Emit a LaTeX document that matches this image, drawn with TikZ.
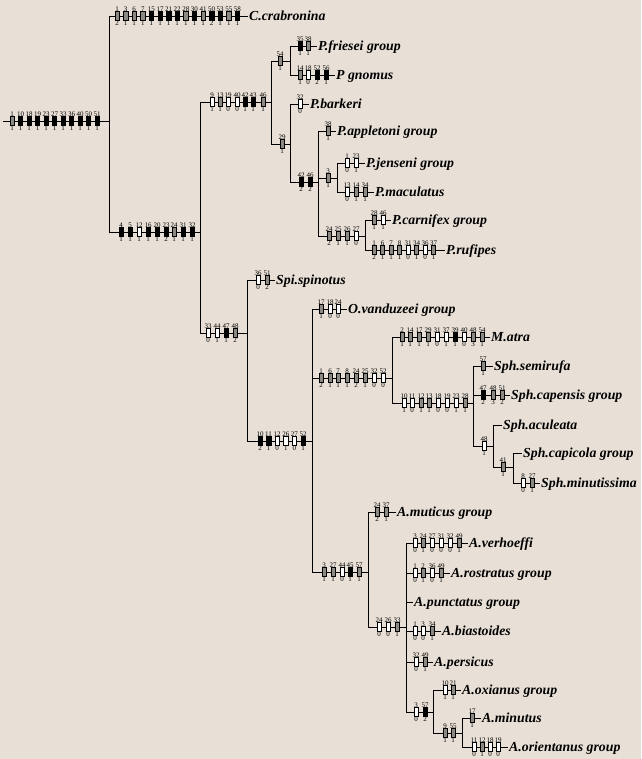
\documentclass[tikz,border=0pt]{standalone}
\usepackage{fontspec}
\setmainfont{Liberation Serif}

\definecolor{paper}{RGB}{232,224,214}
\definecolor{hatch}{RGB}{140,136,130}

\tikzset{
  branch/.style={line width=0.8pt},
  chbox/.style={draw, line width=0.6pt, minimum width=4.4pt, minimum height=8.8pt, inner sep=0pt, label distance=1.2pt},
  blk/.style={chbox, fill=black},
  wht/.style={chbox, fill=white},
  gry/.style={chbox, fill=hatch},
  num/.style={font=\fontsize{7}{7}\selectfont, inner sep=0pt},
  taxon/.style={anchor=west, inner sep=1pt, text height=8.8pt, text depth=0pt,
    font=\fontsize{13.8}{13.8}\selectfont\bfseries\itshape}
}

% one row of character boxes: y, list of x/style/character/state
\newcommand{\chrow}[2]{%
  \foreach \cx/\cs/\cn/\cv in {#2}{
    \node[\cs, label={[num]above:\cn}, label={[num]below:\cv}] (c\cn-\cx-#1) at (\cx,#1) {};
  }}

\begin{document}
\begin{tikzpicture}[x=1pt,y=-1pt]
\fill[paper] (0,0) rectangle (641,759);
\useasboundingbox (0,0) rectangle (641,759);

% branch points
\coordinate (rt) at (3,121);
\coordinate (n0t) at (109,16);  \coordinate (n0m) at (109,121); \coordinate (n0b) at (109,232);
\coordinate (n1t) at (200,102); \coordinate (n1m) at (200,232); \coordinate (n1b) at (200,333);
\coordinate (n2t) at (271,61);  \coordinate (n2m) at (271,102); \coordinate (n2b) at (271,144);
\coordinate (n3t) at (290,46);  \coordinate (n3m) at (290,61);  \coordinate (n3b) at (290,75);
\coordinate (n4t) at (290,104); \coordinate (n4m) at (290,144); \coordinate (n4b) at (290,182);
\coordinate (n5t) at (318,131); \coordinate (n5a) at (318,178); \coordinate (n5m) at (318,182); \coordinate (n5b) at (318,236);
\coordinate (n6t) at (337,163); \coordinate (n6m) at (337,178); \coordinate (n6b) at (337,192);
\coordinate (n7t) at (365,220); \coordinate (n7m) at (365,236); \coordinate (n7b) at (365,250);
\coordinate (n8t) at (247,280); \coordinate (n8m) at (247,333); \coordinate (n8b) at (247,441);
\coordinate (n9t) at (312,309); \coordinate (n9a) at (312,378); \coordinate (n9m) at (312,441); \coordinate (n9b) at (312,572);
\coordinate (n10t) at (392,337); \coordinate (n10m) at (392,378); \coordinate (n10b) at (392,403);
\coordinate (n11t) at (473,366); \coordinate (n11a) at (473,395); \coordinate (n11m) at (473,403); \coordinate (n11b) at (473,446);
\coordinate (n12t) at (493,425); \coordinate (n12m) at (493,446); \coordinate (n12b) at (493,467);
\coordinate (n13t) at (513,453); \coordinate (n13m) at (513,467); \coordinate (n13b) at (513,483);
\coordinate (n14t) at (368,512); \coordinate (n14m) at (368,572); \coordinate (n14b) at (368,627);
\coordinate (n15t) at (406,543); \coordinate (n15a) at (406,573); \coordinate (n15c) at (406,602);
\coordinate (n15m) at (406,627); \coordinate (n15d) at (406,631); \coordinate (n15e) at (406,662); \coordinate (n15b) at (406,712);
\coordinate (n16t) at (433,690); \coordinate (n16m) at (433,712); \coordinate (n16b) at (433,733);
\coordinate (n17t) at (462,718); \coordinate (n17m) at (462,733); \coordinate (n17b) at (462,747);

% taxa
\node[taxon] (crab) at (248,16) {C.crabronina};
\node[taxon] (fries) at (317,46) {P.friesei group};
\node[taxon] (gnom) at (335,75) {P gnomus};
\node[taxon] (bark) at (309,104) {P.barkeri};
\node[taxon] (appl) at (336,131) {P.appletoni group};
\node[taxon] (jens) at (365,163) {P.jenseni group};
\node[taxon] (macu) at (374,192) {P.maculatus};
\node[taxon] (carn) at (391,220) {P.carnifex group};
\node[taxon] (rufi) at (445,250) {P.rufipes};
\node[taxon] (spin) at (275,280) {Spi.spinotus};
\node[taxon] (vand) at (347,309) {O.vanduzeei group};
\node[taxon] (matr) at (490,337) {M.atra};
\node[taxon] (semi) at (493,366) {Sph.semirufa};
\node[taxon] (cape) at (510,395) {Sph.capensis group};
\node[taxon] (acul) at (502,425) {Sph.aculeata};
\node[taxon] (capi) at (522,453) {Sph.capicola group};
\node[taxon] (minu) at (540,483) {Sph.minutissima};
\node[taxon] (muti) at (396,512) {A.muticus group};
\node[taxon] (verh) at (468,543) {A.verhoeffi};
\node[taxon] (rost) at (450,573) {A.rostratus group};
\node[taxon] (punc) at (413,602) {A.punctatus group};
\node[taxon] (bias) at (441,631) {A.biastoides};
\node[taxon] (pers) at (433,662) {A.persicus};
\node[taxon] (oxia) at (461,690) {A.oxianus group};
\node[taxon] (minut) at (481,718) {A.minutus};
\node[taxon] (orie) at (508,747) {A.orientanus group};

% verticals
\draw[branch] (n0t) -- (n0b);  \draw[branch] (n1t) -- (n1b);
\draw[branch] (n2t) -- (n2b);  \draw[branch] (n3t) -- (n3b);
\draw[branch] (n4t) -- (n4b);  \draw[branch] (n5t) -- (n5b);
\draw[branch] (n6t) -- (n6b);  \draw[branch] (n7t) -- (n7b);
\draw[branch] (n8t) -- (n8b);  \draw[branch] (n9t) -- (n9b);
\draw[branch] (n10t) -- (n10b); \draw[branch] (n11t) -- (n11b);
\draw[branch] (n12t) -- (n12b); \draw[branch] (n13t) -- (n13b);
\draw[branch] (n14t) -- (n14b); \draw[branch] (n15t) -- (n15b);
\draw[branch] (n16t) -- (n16b); \draw[branch] (n17t) -- (n17b);

% horizontals
\draw[branch] (rt) -- (n0m);
\draw[branch] (n0t) -- (crab.west);
\draw[branch] (n0b) -- (n1m);
\draw[branch] (n1t) -- (n2m);
\draw[branch] (n2t) -- (n3m);
\draw[branch] (n3t) -- (fries.west);
\draw[branch] (n3b) -- (gnom.west);
\draw[branch] (n2b) -- (n4m);
\draw[branch] (n4t) -- (bark.west);
\draw[branch] (n4b) -- (n5m);
\draw[branch] (n5t) -- (appl.west);
\draw[branch] (n5a) -- (n6m);
\draw[branch] (n6t) -- (jens.west);
\draw[branch] (n6b) -- (macu.west);
\draw[branch] (n5b) -- (n7m);
\draw[branch] (n7t) -- (carn.west);
\draw[branch] (n7b) -- (rufi.west);
\draw[branch] (n1b) -- (n8m);
\draw[branch] (n8t) -- (spin.west);
\draw[branch] (n8b) -- (n9m);
\draw[branch] (n9t) -- (vand.west);
\draw[branch] (n9a) -- (n10m);
\draw[branch] (n10t) -- (matr.west);
\draw[branch] (n10b) -- (n11m);
\draw[branch] (n11t) -- (semi.west);
\draw[branch] (n11a) -- (cape.west);
\draw[branch] (n11b) -- (n12m);
\draw[branch] (n12t) -- (acul.west);
\draw[branch] (n12b) -- (n13m);
\draw[branch] (n13t) -- (capi.west);
\draw[branch] (n13b) -- (minu.west);
\draw[branch] (n9b) -- (n14m);
\draw[branch] (n14t) -- (muti.west);
\draw[branch] (n14b) -- (n15m);
\draw[branch] (n15t) -- (verh.west);
\draw[branch] (n15a) -- (rost.west);
\draw[branch] (n15c) -- (punc.west);
\draw[branch] (n15d) -- (bias.west);
\draw[branch] (n15e) -- (pers.west);
\draw[branch] (n15b) -- (n16m);
\draw[branch] (n16t) -- (oxia.west);
\draw[branch] (n16b) -- (n17m);
\draw[branch] (n17t) -- (minut.west);
\draw[branch] (n17b) -- (orie.west);

% character boxes
\chrow{121}{12/gry/1/1, 20.5/blk/10/1, 29/blk/18/1, 37.5/blk/19/1, 46/blk/23/1, 54.5/blk/27/1,
  63/blk/33/1, 71.5/blk/36/1, 80/blk/40/1, 88.5/blk/50/1, 97/blk/51/1}
\chrow{16}{117/gry/1/2, 125.6/gry/3/1, 134.2/gry/6/1, 142.8/gry/7/1, 151.4/blk/15/1, 160/blk/17/1,
  168.6/blk/21/1, 177.2/blk/22/1, 185.8/gry/28/1, 194.4/blk/30/1, 203/gry/41/1, 211.6/blk/50/2,
  220.2/blk/53/1, 228.8/gry/55/1, 237.4/blk/58/1}
\chrow{232}{121/blk/4/1, 130/blk/5/1, 139/wht/12/1, 148/blk/16/1, 157/blk/20/1, 166/blk/23/2,
  174/gry/24/1, 183/blk/31/1, 192/blk/32/1}
\chrow{102}{212/wht/9/1, 220/gry/13/1, 228/wht/19/0, 237/wht/40/0, 245/blk/42/1, 253/blk/43/1, 263/gry/46/1}
\chrow{61}{280/gry/54/1}
\chrow{46}{300/blk/35/1, 308/gry/38/1}
\chrow{75}{300/gry/14/1, 308/wht/18/0, 317/blk/52/2, 326/blk/56/1}
\chrow{144}{282/gry/29/1}
\chrow{104}{300/wht/32/0}
\chrow{182}{301/blk/42/2, 310/blk/46/2}
\chrow{131}{328/gry/38/1}
\chrow{178}{328/gry/3/1}
\chrow{163}{347/wht/1/0, 356/wht/23/1}
\chrow{192}{347/wht/13/0, 356/gry/14/1, 365/gry/34/1}
\chrow{236}{329/gry/24/2, 338/gry/25/1, 347/gry/26/1, 356/wht/27/0}
\chrow{220}{374/gry/28/1, 383/wht/46/1}
\chrow{250}{374/gry/1/2, 382.5/gry/6/1, 391/gry/7/1, 399.5/gry/8/1, 408/wht/31/0, 416.5/gry/34/1,
  425/wht/36/0, 433.5/gry/37/1}
\chrow{333}{208/wht/33/0, 217/wht/44/1, 226/blk/47/1, 235/gry/48/2}
\chrow{280}{258/wht/36/0, 267/gry/51/2}
\chrow{441}{260/blk/10/2, 268.6/blk/11/1, 277.2/wht/12/0, 285.8/wht/26/1, 294.4/wht/27/0, 303/blk/52/1}
\chrow{309}{321/gry/17/1, 330/wht/18/0, 338/wht/24/0}
\chrow{378}{321/gry/1/2, 330/gry/6/1, 338/gry/7/1, 347/gry/8/1, 356/gry/24/2, 365/gry/25/1,
  374/wht/32/0, 383/wht/52/0}
\chrow{337}{402/gry/2/1, 410/gry/14/1, 419/gry/17/1, 428/gry/29/1, 437/wht/31/0, 446/wht/37/1,
  455/blk/39/1, 464/wht/40/0, 473/gry/48/3, 482/gry/54/1}
\chrow{403}{404/wht/10/1, 412/wht/11/0, 421/gry/12/1, 429/gry/13/1, 438/wht/18/0, 447/wht/19/0,
  456/wht/23/1, 465/gry/28/1}
\chrow{366}{483/gry/57/1}
\chrow{395}{483/blk/47/2, 493/gry/48/3, 502/gry/51/2}
\chrow{446}{484/wht/48/1}
\chrow{467}{503/gry/41/1}
\chrow{483}{523/wht/8/0, 532/gry/27/1}
\chrow{572}{324/gry/3/1, 333/gry/27/1, 342/wht/44/0, 350/blk/45/1, 359/gry/57/1}
\chrow{512}{377/gry/24/2, 386/gry/37/1}
\chrow{627}{379/wht/24/0, 388/wht/26/0, 397/gry/33/1}
\chrow{543}{415/wht/3/0, 423/gry/24/1, 432/wht/27/0, 441/wht/31/0, 450/wht/32/0, 459/gry/49/1}
\chrow{573}{415/wht/1/0, 423/gry/2/1, 432/wht/36/0, 441/gry/49/1}
\chrow{631}{415/wht/1/0, 423/wht/3/0, 432/gry/34/1}
\chrow{662}{416/wht/32/0, 425/gry/49/1}
\chrow{712}{416/wht/3/0, 425/blk/57/2}
\chrow{690}{445/wht/10/1, 453/gry/21/1}
\chrow{733}{445/gry/9/1, 453/gry/55/1}
\chrow{718}{472/gry/17/1}
\chrow{747}{474/wht/11/0, 482/gry/12/1, 490/wht/18/0, 498/wht/19/0}
\end{tikzpicture}
\end{document}
